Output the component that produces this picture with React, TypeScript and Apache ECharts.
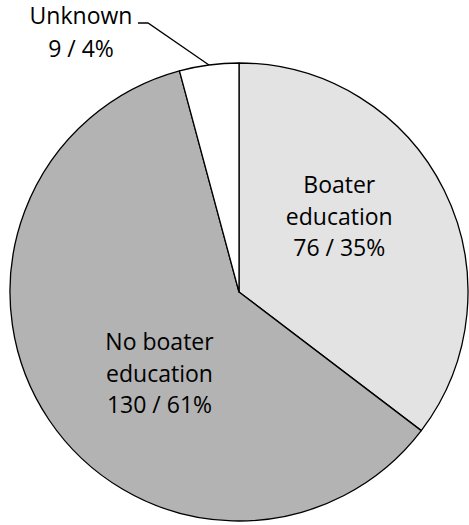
import React, { useEffect, useRef } from "react";
import * as echarts from "echarts";

const categories = ["Boater\neducation", "No boater\neducation", "Unknown"];
const counts = [76, 130, 9];
const sliceColors = ["#e3e3e3", "#b3b3b3", "#ffffff"];

export default function App() {
  const ref = useRef<HTMLDivElement>(null);
  useEffect(() => {
    if (!ref.current) return;
    const chart = echarts.init(ref.current, undefined, { renderer: "svg" });
    const font = { fontFamily: "Open Sans", fontSize: 23, lineHeight: 31.5, color: "#000" };
    const labelCfg = [
      { position: "inside", offset: [-5, -24] },
      { position: "inside", offset: [18, 15] },
      { position: "outside" },
    ];
    chart.setOption({
      animation: false,
      series: [
        {
          type: "pie",
          center: [239, 292],
          radius: 229,
          startAngle: 90,
          clockwise: true,
          percentPrecision: 0,
          itemStyle: { borderColor: "#000", borderWidth: 1.3 },
          emphasis: { disabled: true },
          label: { ...font, formatter: "{b}\n{c} / {d}%" },
          labelLayout: (p: any) => {
            if (p.dataIndex !== 2) return {};
            const start = p.labelLinePoints ? p.labelLinePoints[0] : [209, 63];
            return {
              x: 81,
              y: 31,
              align: "center",
              verticalAlign: "middle",
              labelLinePoints: [start, [148, 23], [138, 23]],
            };
          },
          data: categories.map((name, i) => ({
            name,
            value: counts[i],
            itemStyle: { color: sliceColors[i] },
            label: { ...font, ...labelCfg[i], lineHeight: i === 2 ? 33 : 31.5 },
            labelLine: {
              show: i === 2,
              lineStyle: { color: "#000", width: 1.3 },
              length: 20,
              length2: 10,
            },
          })),
        },
      ],
    });
    return () => chart.dispose();
  }, []);
  return (
    <div
      ref={ref}
      style={{ position: "absolute", left: 0, top: 0, width: 469, height: 525, background: "#fff" }}
    />
  );
}
